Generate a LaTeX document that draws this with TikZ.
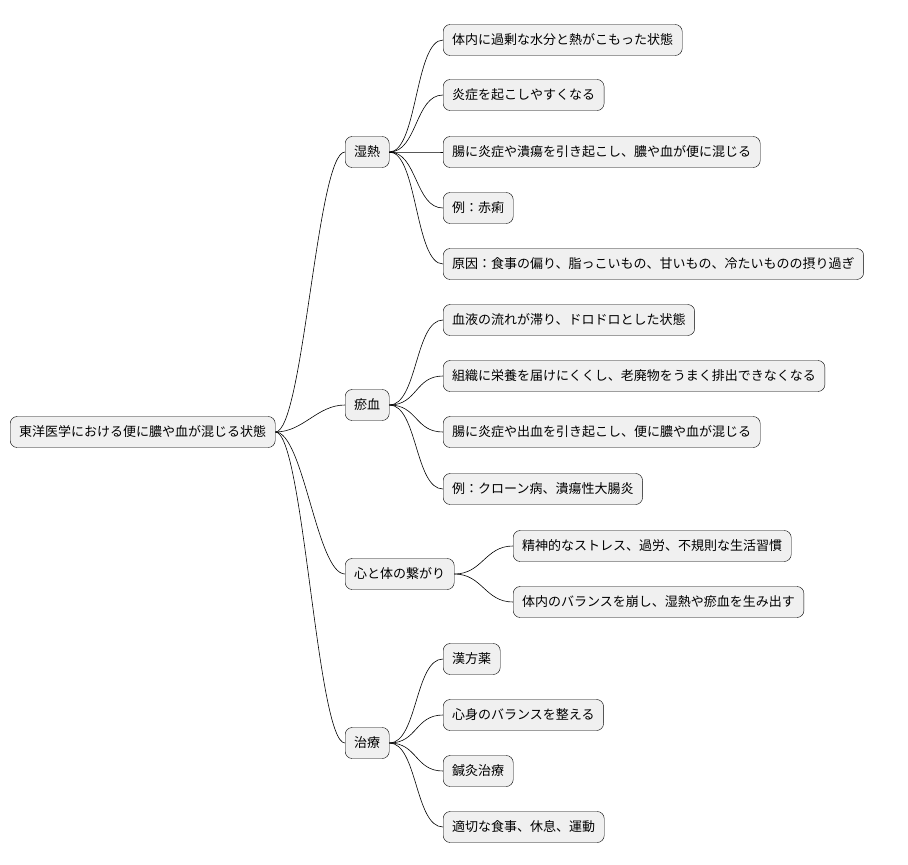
\documentclass[tikz,border=0pt]{standalone}
\usepackage{fontspec}
\setmainfont{Noto Sans CJK JP}
\usetikzlibrary{positioning}

\tikzset{
  topic/.style={draw, rounded corners=7pt, fill=black!6, minimum height=31pt,
    inner xsep=9pt, anchor=west, font=\fontsize{13}{15}\selectfont},
  branch/.style={line width=0.6pt}
}
\newcommand{\linkto}[2]{\draw[branch] (#1.east) .. controls +(28,0) and +(-28,0) .. (#2.west);}

\begin{document}
\begin{tikzpicture}[x=1pt, y=-1pt]
\useasboundingbox (0,0) rectangle (908,865);

% root
\node[topic] (root) at (10,432) {東洋医学における便に膿や血が混じる状態};

% first level
\node[topic] (damp) at (345,152) {湿熱};
\node[topic] (stasis) at (345,405) {瘀血};
\node[topic] (mind) at (345,574) {心と体の繋がり};
\node[topic] (cure) at (345,743) {治療};

% damp heat
\node[topic] (d1) at (443,40) {体内に過剰な水分と熱がこもった状態};
\node[topic] (d2) at (443,95) {炎症を起こしやすくなる};
\node[topic] (d3) at (443,152) {腸に炎症や潰瘍を引き起こし、膿や血が便に混じる};
\node[topic] (d4) at (443,208) {例：赤痢};
\node[topic] (d5) at (443,264) {原因：食事の偏り、脂っこいもの、甘いもの、冷たいものの摂り過ぎ};

% blood stasis
\node[topic] (s1) at (443,320) {血液の流れが滞り、ドロドロとした状態};
\node[topic] (s2) at (443,376) {組織に栄養を届けにくくし、老廃物をうまく排出できなくなる};
\node[topic] (s3) at (443,432) {腸に炎症や出血を引き起こし、便に膿や血が混じる};
\node[topic] (s4) at (443,489) {例：クローン病、潰瘍性大腸炎};

% mind and body
\node[topic] (m1) at (513,546) {精神的なストレス、過労、不規則な生活習慣};
\node[topic] (m2) at (513,602) {体内のバランスを崩し、湿熱や瘀血を生み出す};

% treatment
\node[topic] (c1) at (443,659) {漢方薬};
\node[topic] (c2) at (443,715) {心身のバランスを整える};
\node[topic] (c3) at (443,771) {鍼灸治療};
\node[topic] (c4) at (443,827) {適切な食事、休息、運動};

% connectors
\foreach \c in {damp,stasis,mind,cure} {\linkto{root}{\c}}
\foreach \c in {d1,d2,d3,d4,d5} {\linkto{damp}{\c}}
\foreach \c in {s1,s2,s3,s4} {\linkto{stasis}{\c}}
\foreach \c in {m1,m2} {\linkto{mind}{\c}}
\foreach \c in {c1,c2,c3,c4} {\linkto{cure}{\c}}

\end{tikzpicture}
\end{document}
